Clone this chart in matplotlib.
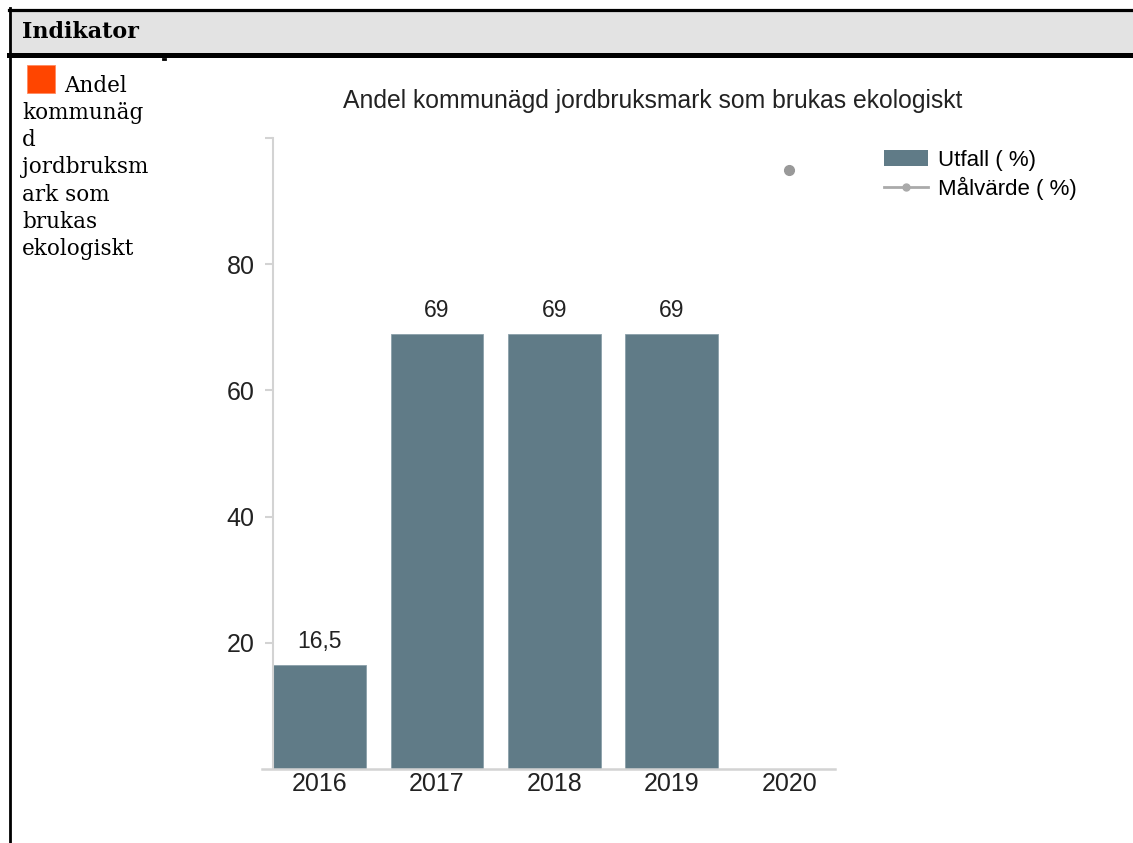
import matplotlib
matplotlib.use('Agg')

import matplotlib.pyplot as plt
import numpy as np
from matplotlib.lines import Line2D
from matplotlib.patches import Patch, Rectangle

# --- data ---
years     = ['2016', '2017', '2018', '2019', '2020']
utfall    = [16.5, 69, 69, 69, np.nan]
malvarde  = [np.nan, np.nan, np.nan, np.nan, 95]
bar_texts = ['16,5', '69', '69', '69', '']
yticks    = [20, 40, 60, 80, 100]
ytick_labels = ['20', '40', '60', '80', '']
side_lines = ['kommunäg', 'd', 'jordbruksm', 'ark som', 'brukas', 'ekologiskt']

BAR_COLOR  = '#607b87'
AXIS_GRAY  = '#d3d3d3'
TEXT_COLOR = '#222222'
SANS  = ['Liberation Sans', 'DejaVu Sans']
SERIF = ['DejaVu Serif']

W, H = 1133, 843
fig = plt.figure(figsize=(W / 100, H / 100), dpi=100)
fig.patch.set_facecolor('white')


def px(x, y):
    """pixel (from top-left) -> figure fraction"""
    return x / W, 1 - y / H


# --- table frame on the left / top ---
hx, hy = px(9, 56)
fig.patches.append(Rectangle((hx, hy), 1 - hx, 47 / H, transform=fig.transFigure,
                             facecolor='#e3e3e3', edgecolor='none', zorder=0))
fig.add_artist(Line2D([9 / W, 1], [1 - 9.5 / H] * 2, color='black', lw=2.3))
fig.add_artist(Line2D([9 / W, 1], [1 - 54.5 / H] * 2, color='black', lw=3.6))
fig.add_artist(Line2D([9.5 / W] * 2, [1 - 8 / H, 0], color='black', lw=2.0))
fig.add_artist(Line2D([163 / W, 165 / W], [1 - 59 / H] * 2, color='black', lw=2.0))

fig.text(*px(22, 32), 'Indikator', family=SERIF, fontweight='bold',
         fontsize=16, va='center', ha='left', color='black')

sx, sy = px(27, 93)
fig.patches.append(Rectangle((sx, sy), 28 / W, 28 / H, transform=fig.transFigure,
                             facecolor='#ff4500', edgecolor='#ff8a60', lw=0.6))
fig.text(*px(64, 92), 'Andel', family=SERIF, fontsize=15.5, va='baseline', color='black')
for i, line in enumerate(side_lines):
    fig.text(*px(22, 119 + i * 27.2), line, family=SERIF, fontsize=15.5,
             va='baseline', color='black')

# --- chart ---
ax = fig.add_axes([262 / W, 1 - 769 / H, (835 - 262) / W, (769 - 138) / H])
# spine position first (it resets the tick objects)
for s in ['top', 'right']:
    ax.spines[s].set_visible(False)
ax.spines['left'].set_position(('data', -0.397))
ax.spines['left'].set_color(AXIS_GRAY)
ax.spines['left'].set_linewidth(1.5)
ax.spines['bottom'].set_color(AXIS_GRAY)
ax.spines['bottom'].set_linewidth(1.8)

x = np.arange(len(years))
ax.bar(x, utfall, width=0.79, color=BAR_COLOR, edgecolor='#8aa0aa', linewidth=0.6,
       label='Utfall ( %)')
ax.plot(x, malvarde, color='#999999', marker='o', markersize=7, lw=2,
        label='Målvärde ( %)')

for xi, v, t in zip(x, utfall, bar_texts):
    if t:
        ax.text(xi, v + 1.9, t, ha='center', va='bottom', fontsize=16.5,
                family=SANS, color=TEXT_COLOR)

ax.set_xlim(-0.49, 4.39)
ax.set_ylim(0, 100)
ax.set_xticks(x)
ax.set_xticklabels(years, family=SANS, fontsize=18, color=TEXT_COLOR)
ax.set_yticks(yticks)
ax.set_yticklabels(ytick_labels, family=SANS, fontsize=18, color=TEXT_COLOR)
ax.tick_params(axis='x', length=0, pad=2)
ax.tick_params(axis='y', length=6, width=1.5, color=AXIS_GRAY, pad=7)

fig.text(*px(653, 101), 'Andel kommunägd jordbruksmark som brukas ekologiskt',
         ha='center', va='center', fontsize=17.8, family=SANS, color=TEXT_COLOR)

handles = [Patch(facecolor=BAR_COLOR, edgecolor='none'),
           Line2D([], [], color='#aaaaaa', marker='o', markersize=5, lw=2)]
fig.legend(handles, ['Utfall ( %)', 'Målvärde ( %)'], loc='upper left',
           bbox_to_anchor=px(866, 132), frameon=False,
           prop={'family': SANS, 'size': 16}, handlelength=2.0, handleheight=0.7,
           handletextpad=0.45, labelspacing=0.28, borderpad=0.3)

fig.savefig('out.png', dpi=100)
